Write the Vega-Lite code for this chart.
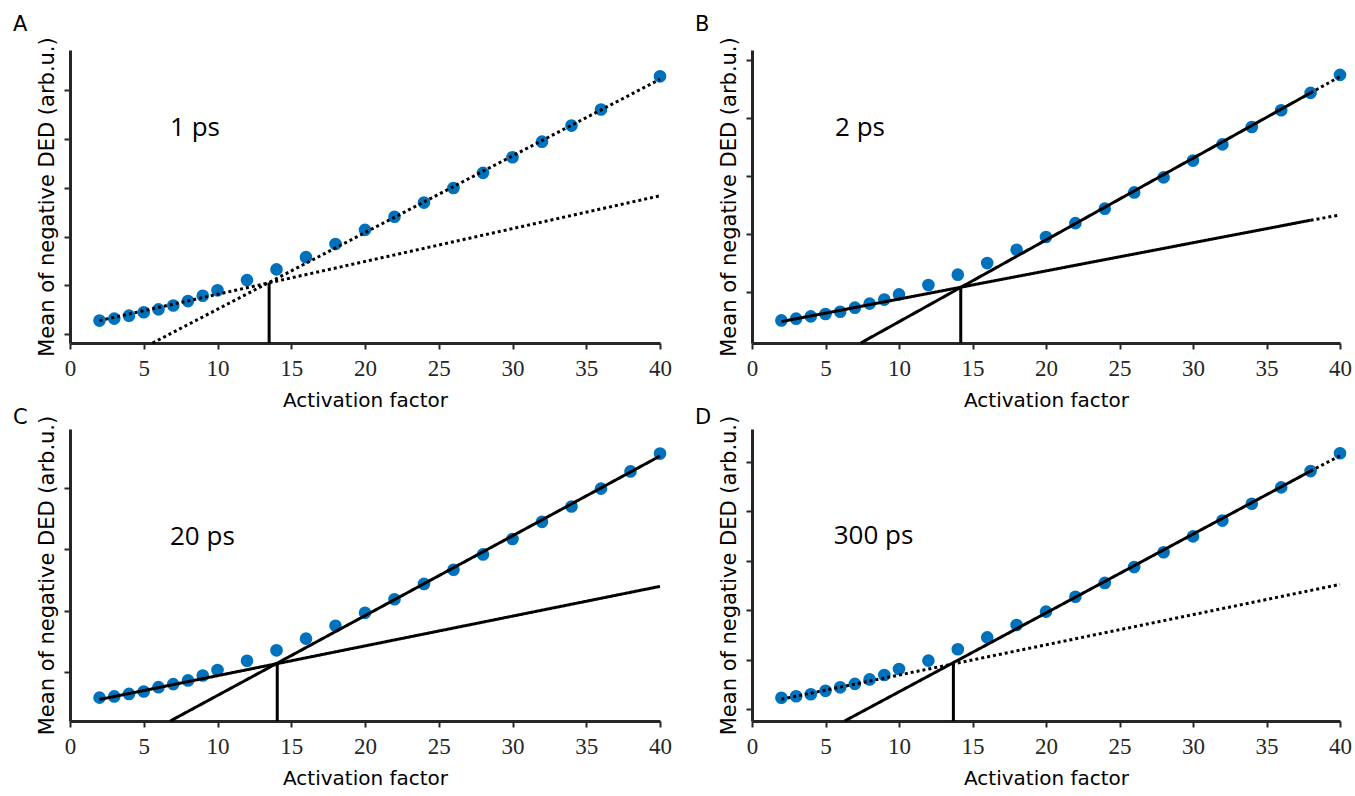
{
  "$schema": "https://vega.github.io/schema/vega-lite/v6.json",
  "padding": {"left": 13, "top": 13, "right": 3, "bottom": 0},
  "background": "white",
  "bounds": "flush",
  "columns": 2,
  "spacing": {"row": 86, "column": 92},
  "config": {"view": {"stroke": null}},
  "datasets": {
    "pts": [
      {"panel": "A", "x": 2, "y": 0.28}, {"panel": "A", "x": 3, "y": 0.32}, {"panel": "A", "x": 4, "y": 0.38}, {"panel": "A", "x": 5, "y": 0.45}, {"panel": "A", "x": 6, "y": 0.51}, {"panel": "A", "x": 7, "y": 0.59}, {"panel": "A", "x": 8, "y": 0.68}, {"panel": "A", "x": 9, "y": 0.79}, {"panel": "A", "x": 10, "y": 0.9}, {"panel": "A", "x": 12, "y": 1.11}, {"panel": "A", "x": 14, "y": 1.33}, {"panel": "A", "x": 16, "y": 1.58}, {"panel": "A", "x": 18, "y": 1.85}, {"panel": "A", "x": 20, "y": 2.14}, {"panel": "A", "x": 22, "y": 2.41}, {"panel": "A", "x": 24, "y": 2.7}, {"panel": "A", "x": 26, "y": 3.0}, {"panel": "A", "x": 28, "y": 3.31}, {"panel": "A", "x": 30, "y": 3.63}, {"panel": "A", "x": 32, "y": 3.95}, {"panel": "A", "x": 34, "y": 4.28}, {"panel": "A", "x": 36, "y": 4.61}, {"panel": "A", "x": 40, "y": 5.29},
      {"panel": "B", "x": 2, "y": -0.49}, {"panel": "B", "x": 3, "y": -0.46}, {"panel": "B", "x": 4, "y": -0.42}, {"panel": "B", "x": 5, "y": -0.38}, {"panel": "B", "x": 6, "y": -0.34}, {"panel": "B", "x": 7, "y": -0.27}, {"panel": "B", "x": 8, "y": -0.2}, {"panel": "B", "x": 9, "y": -0.13}, {"panel": "B", "x": 10, "y": -0.04}, {"panel": "B", "x": 12, "y": 0.12}, {"panel": "B", "x": 14, "y": 0.3}, {"panel": "B", "x": 16, "y": 0.5}, {"panel": "B", "x": 18, "y": 0.73}, {"panel": "B", "x": 20, "y": 0.95}, {"panel": "B", "x": 22, "y": 1.19}, {"panel": "B", "x": 24, "y": 1.44}, {"panel": "B", "x": 26, "y": 1.72}, {"panel": "B", "x": 28, "y": 1.98}, {"panel": "B", "x": 30, "y": 2.27}, {"panel": "B", "x": 32, "y": 2.55}, {"panel": "B", "x": 34, "y": 2.85}, {"panel": "B", "x": 36, "y": 3.14}, {"panel": "B", "x": 38, "y": 3.44}, {"panel": "B", "x": 40, "y": 3.75},
      {"panel": "C", "x": 2, "y": -0.41}, {"panel": "C", "x": 3, "y": -0.39}, {"panel": "C", "x": 4, "y": -0.35}, {"panel": "C", "x": 5, "y": -0.31}, {"panel": "C", "x": 6, "y": -0.24}, {"panel": "C", "x": 7, "y": -0.19}, {"panel": "C", "x": 8, "y": -0.13}, {"panel": "C", "x": 9, "y": -0.05}, {"panel": "C", "x": 10, "y": 0.04}, {"panel": "C", "x": 12, "y": 0.19}, {"panel": "C", "x": 14, "y": 0.36}, {"panel": "C", "x": 16, "y": 0.55}, {"panel": "C", "x": 18, "y": 0.76}, {"panel": "C", "x": 20, "y": 0.97}, {"panel": "C", "x": 22, "y": 1.19}, {"panel": "C", "x": 24, "y": 1.44}, {"panel": "C", "x": 26, "y": 1.67}, {"panel": "C", "x": 28, "y": 1.92}, {"panel": "C", "x": 30, "y": 2.17}, {"panel": "C", "x": 32, "y": 2.45}, {"panel": "C", "x": 34, "y": 2.7}, {"panel": "C", "x": 36, "y": 2.99}, {"panel": "C", "x": 38, "y": 3.27}, {"panel": "C", "x": 40, "y": 3.56},
      {"panel": "D", "x": 2, "y": 0.23}, {"panel": "D", "x": 3, "y": 0.26}, {"panel": "D", "x": 4, "y": 0.3}, {"panel": "D", "x": 5, "y": 0.37}, {"panel": "D", "x": 6, "y": 0.44}, {"panel": "D", "x": 7, "y": 0.51}, {"panel": "D", "x": 8, "y": 0.6}, {"panel": "D", "x": 9, "y": 0.69}, {"panel": "D", "x": 10, "y": 0.81}, {"panel": "D", "x": 12, "y": 0.98}, {"panel": "D", "x": 14, "y": 1.21}, {"panel": "D", "x": 16, "y": 1.45}, {"panel": "D", "x": 18, "y": 1.7}, {"panel": "D", "x": 20, "y": 1.97}, {"panel": "D", "x": 22, "y": 2.27}, {"panel": "D", "x": 24, "y": 2.55}, {"panel": "D", "x": 26, "y": 2.87}, {"panel": "D", "x": 28, "y": 3.17}, {"panel": "D", "x": 30, "y": 3.49}, {"panel": "D", "x": 32, "y": 3.81}, {"panel": "D", "x": 34, "y": 4.15}, {"panel": "D", "x": 36, "y": 4.48}, {"panel": "D", "x": 38, "y": 4.81}, {"panel": "D", "x": 40, "y": 5.17}
    ],
    "fits": [
      {"panel": "A", "seg": "A1", "style": "dotted", "x": 2, "y": 0.28}, {"panel": "A", "seg": "A1", "style": "dotted", "x": 40, "y": 2.84},
      {"panel": "A", "seg": "A2", "style": "dotted", "x": 5.6, "y": -0.18}, {"panel": "A", "seg": "A2", "style": "dotted", "x": 40, "y": 5.23},
      {"panel": "B", "seg": "B1", "style": "solid", "x": 2, "y": -0.51}, {"panel": "B", "seg": "B1", "style": "solid", "x": 38, "y": 1.24},
      {"panel": "B", "seg": "B1d", "style": "dotted", "x": 38, "y": 1.24}, {"panel": "B", "seg": "B1d", "style": "dotted", "x": 40, "y": 1.33},
      {"panel": "B", "seg": "B2", "style": "solid", "x": 7.4, "y": -0.88}, {"panel": "B", "seg": "B2", "style": "solid", "x": 38, "y": 3.44},
      {"panel": "B", "seg": "B2d", "style": "dotted", "x": 38, "y": 3.44}, {"panel": "B", "seg": "B2d", "style": "dotted", "x": 40, "y": 3.72},
      {"panel": "C", "seg": "C1", "style": "solid", "x": 2, "y": -0.44}, {"panel": "C", "seg": "C1", "style": "solid", "x": 40, "y": 1.4},
      {"panel": "C", "seg": "C2", "style": "solid", "x": 6.8, "y": -0.79}, {"panel": "C", "seg": "C2", "style": "solid", "x": 40, "y": 3.52},
      {"panel": "D", "seg": "D1", "style": "dotted", "x": 2, "y": 0.2}, {"panel": "D", "seg": "D1", "style": "dotted", "x": 40, "y": 2.52},
      {"panel": "D", "seg": "D2", "style": "solid", "x": 6.3, "y": -0.24}, {"panel": "D", "seg": "D2", "style": "solid", "x": 38, "y": 4.81},
      {"panel": "D", "seg": "D2d", "style": "dotted", "x": 38, "y": 4.81}, {"panel": "D", "seg": "D2d", "style": "dotted", "x": 40, "y": 5.12}
    ],
    "cross": [
      {"panel": "A", "x": 13.5, "y0": -0.18, "y1": 1.06},
      {"panel": "B", "x": 14.2, "y0": -0.88, "y1": 0.08},
      {"panel": "C", "x": 14.05, "y0": -0.79, "y1": 0.15},
      {"panel": "D", "x": 13.7, "y0": -0.24, "y1": 0.93}
    ],
    "notes": [
      {"panel": "A", "x": 6.78, "y": 4.06, "text": "1 ps"},
      {"panel": "B", "x": 5.65, "y": 2.7, "text": "2 ps"},
      {"panel": "C", "x": 6.78, "y": 2.08, "text": "20 ps"},
      {"panel": "D", "x": 5.56, "y": 3.33, "text": "300 ps"}
    ]
  },
  "concat": [
    {
      "title": {"text": "A", "anchor": "start", "frame": "group", "dx": -57, "baseline": "alphabetic", "font": "DejaVu Sans", "fontSize": 21, "fontWeight": "normal", "color": "black", "offset": -15},
      "width": 590, "height": 293,
      "resolve": {"axis": {"x": "independent", "y": "independent"}},
      "layer": [
        {"data": {"name": "pts"}, "transform": [{"filter": "datum.panel === 'A'"}], "mark": {"type": "circle", "size": 160, "color": "#0072BD", "opacity": 1},
         "encoding": {
          "x": {"field": "x", "type": "quantitative", "scale": {"domain": [0, 40], "nice": false, "zero": false}, "axis": {"values": [0, 5, 10, 15, 20, 25, 30, 35, 40], "grid": false, "labelFlush": false, "labelFont": "Liberation Serif", "labelFontSize": 23, "labelColor": "#262626", "labelPadding": 8, "domainWidth": 3, "domainColor": "#262626", "tickWidth": 2, "tickColor": "#262626", "tickSize": 6, "title": "Activation factor", "titleFont": "DejaVu Sans", "titleFontWeight": "normal", "titleColor": "black", "titleFontSize": 20, "titlePadding": 10}},
          "y": {"field": "y", "type": "quantitative", "scale": {"domain": [-0.18, 5.83], "nice": false, "zero": false}, "axis": {"values": [0, 1, 2, 3, 4, 5], "grid": false, "labels": false, "domainWidth": 3, "domainColor": "#262626", "tickWidth": 2, "tickColor": "#262626", "tickSize": 6, "title": "Mean of negative DED (arb.u.)", "titleFont": "DejaVu Sans", "titleFontWeight": "normal", "titleColor": "black", "titleFontSize": 21, "titlePadding": 6}}
         }},
        {"data": {"name": "fits"}, "transform": [{"filter": "datum.panel === 'A'"}], "mark": {"type": "line", "color": "black", "strokeWidth": 3}, "encoding": {"x": {"field": "x", "type": "quantitative", "axis": null}, "y": {"field": "y", "type": "quantitative", "axis": null}, "detail": {"field": "seg"}, "strokeDash": {"field": "style", "type": "nominal", "scale": {"domain": ["solid", "dotted"], "range": [[1, 0], [3, 3]]}, "legend": null}}},
        {"data": {"name": "cross"}, "transform": [{"filter": "datum.panel === 'A'"}], "mark": {"type": "rule", "color": "black", "strokeWidth": 3}, "encoding": {"x": {"field": "x", "type": "quantitative", "axis": null}, "y": {"field": "y0", "type": "quantitative", "axis": null}, "y2": {"field": "y1"}}},
        {"data": {"name": "notes"}, "transform": [{"filter": "datum.panel === 'A'"}], "mark": {"type": "text", "align": "left", "baseline": "alphabetic", "font": "Open Sans", "fontSize": 26, "color": "black"}, "encoding": {"x": {"field": "x", "type": "quantitative", "axis": null}, "y": {"field": "y", "type": "quantitative", "axis": null}, "text": {"field": "text"}}}
      ]
    },
    {
      "title": {"text": "B", "anchor": "start", "frame": "group", "dx": -57, "baseline": "alphabetic", "font": "DejaVu Sans", "fontSize": 21, "fontWeight": "normal", "color": "black", "offset": -15},
      "width": 588, "height": 293,
      "resolve": {"axis": {"x": "independent", "y": "independent"}},
      "layer": [
        {"data": {"name": "pts"}, "transform": [{"filter": "datum.panel === 'B'"}], "mark": {"type": "circle", "size": 160, "color": "#0072BD", "opacity": 1},
         "encoding": {
          "x": {"field": "x", "type": "quantitative", "scale": {"domain": [0, 40], "nice": false, "zero": false}, "axis": {"values": [0, 5, 10, 15, 20, 25, 30, 35, 40], "grid": false, "labelFlush": false, "labelFont": "Liberation Serif", "labelFontSize": 23, "labelColor": "#262626", "labelPadding": 8, "domainWidth": 3, "domainColor": "#262626", "tickWidth": 2, "tickColor": "#262626", "tickSize": 6, "title": "Activation factor", "titleFont": "DejaVu Sans", "titleFontWeight": "normal", "titleColor": "black", "titleFontSize": 20, "titlePadding": 10}},
          "y": {"field": "y", "type": "quantitative", "scale": {"domain": [-0.88, 4.18], "nice": false, "zero": false}, "axis": {"values": [0, 1, 2, 3, 4], "grid": false, "labels": false, "domainWidth": 3, "domainColor": "#262626", "tickWidth": 2, "tickColor": "#262626", "tickSize": 6, "title": "Mean of negative DED (arb.u.)", "titleFont": "DejaVu Sans", "titleFontWeight": "normal", "titleColor": "black", "titleFontSize": 21, "titlePadding": 6}}
         }},
        {"data": {"name": "fits"}, "transform": [{"filter": "datum.panel === 'B'"}], "mark": {"type": "line", "color": "black", "strokeWidth": 3}, "encoding": {"x": {"field": "x", "type": "quantitative", "axis": null}, "y": {"field": "y", "type": "quantitative", "axis": null}, "detail": {"field": "seg"}, "strokeDash": {"field": "style", "type": "nominal", "scale": {"domain": ["solid", "dotted"], "range": [[1, 0], [3, 3]]}, "legend": null}}},
        {"data": {"name": "cross"}, "transform": [{"filter": "datum.panel === 'B'"}], "mark": {"type": "rule", "color": "black", "strokeWidth": 3}, "encoding": {"x": {"field": "x", "type": "quantitative", "axis": null}, "y": {"field": "y0", "type": "quantitative", "axis": null}, "y2": {"field": "y1"}}},
        {"data": {"name": "notes"}, "transform": [{"filter": "datum.panel === 'B'"}], "mark": {"type": "text", "align": "left", "baseline": "alphabetic", "font": "Open Sans", "fontSize": 26, "color": "black"}, "encoding": {"x": {"field": "x", "type": "quantitative", "axis": null}, "y": {"field": "y", "type": "quantitative", "axis": null}, "text": {"field": "text"}}}
      ]
    },
    {
      "title": {"text": "C", "anchor": "start", "frame": "group", "dx": -57, "baseline": "alphabetic", "font": "DejaVu Sans", "fontSize": 21, "fontWeight": "normal", "color": "black", "offset": -30},
      "width": 590, "height": 292,
      "resolve": {"axis": {"x": "independent", "y": "independent"}},
      "layer": [
        {"data": {"name": "pts"}, "transform": [{"filter": "datum.panel === 'C'"}], "mark": {"type": "circle", "size": 160, "color": "#0072BD", "opacity": 1},
         "encoding": {
          "x": {"field": "x", "type": "quantitative", "scale": {"domain": [0, 40], "nice": false, "zero": false}, "axis": {"values": [0, 5, 10, 15, 20, 25, 30, 35, 40], "grid": false, "labelFlush": false, "labelFont": "Liberation Serif", "labelFontSize": 23, "labelColor": "#262626", "labelPadding": 8, "domainWidth": 3, "domainColor": "#262626", "tickWidth": 2, "tickColor": "#262626", "tickSize": 6, "title": "Activation factor", "titleFont": "DejaVu Sans", "titleFontWeight": "normal", "titleColor": "black", "titleFontSize": 20, "titlePadding": 10}},
          "y": {"field": "y", "type": "quantitative", "scale": {"domain": [-0.79, 3.96], "nice": false, "zero": false}, "axis": {"values": [0, 1, 2, 3], "grid": false, "labels": false, "domainWidth": 3, "domainColor": "#262626", "tickWidth": 2, "tickColor": "#262626", "tickSize": 6, "title": "Mean of negative DED (arb.u.)", "titleFont": "DejaVu Sans", "titleFontWeight": "normal", "titleColor": "black", "titleFontSize": 21, "titlePadding": 6}}
         }},
        {"data": {"name": "fits"}, "transform": [{"filter": "datum.panel === 'C'"}], "mark": {"type": "line", "color": "black", "strokeWidth": 3}, "encoding": {"x": {"field": "x", "type": "quantitative", "axis": null}, "y": {"field": "y", "type": "quantitative", "axis": null}, "detail": {"field": "seg"}, "strokeDash": {"field": "style", "type": "nominal", "scale": {"domain": ["solid", "dotted"], "range": [[1, 0], [3, 3]]}, "legend": null}}},
        {"data": {"name": "cross"}, "transform": [{"filter": "datum.panel === 'C'"}], "mark": {"type": "rule", "color": "black", "strokeWidth": 3}, "encoding": {"x": {"field": "x", "type": "quantitative", "axis": null}, "y": {"field": "y0", "type": "quantitative", "axis": null}, "y2": {"field": "y1"}}},
        {"data": {"name": "notes"}, "transform": [{"filter": "datum.panel === 'C'"}], "mark": {"type": "text", "align": "left", "baseline": "alphabetic", "font": "Open Sans", "fontSize": 26, "color": "black"}, "encoding": {"x": {"field": "x", "type": "quantitative", "axis": null}, "y": {"field": "y", "type": "quantitative", "axis": null}, "text": {"field": "text"}}}
      ]
    },
    {
      "title": {"text": "D", "anchor": "start", "frame": "group", "dx": -57, "baseline": "alphabetic", "font": "DejaVu Sans", "fontSize": 21, "fontWeight": "normal", "color": "black", "offset": -30},
      "width": 588, "height": 292,
      "resolve": {"axis": {"x": "independent", "y": "independent"}},
      "layer": [
        {"data": {"name": "pts"}, "transform": [{"filter": "datum.panel === 'D'"}], "mark": {"type": "circle", "size": 160, "color": "#0072BD", "opacity": 1},
         "encoding": {
          "x": {"field": "x", "type": "quantitative", "scale": {"domain": [0, 40], "nice": false, "zero": false}, "axis": {"values": [0, 5, 10, 15, 20, 25, 30, 35, 40], "grid": false, "labelFlush": false, "labelFont": "Liberation Serif", "labelFontSize": 23, "labelColor": "#262626", "labelPadding": 8, "domainWidth": 3, "domainColor": "#262626", "tickWidth": 2, "tickColor": "#262626", "tickSize": 6, "title": "Activation factor", "titleFont": "DejaVu Sans", "titleFontWeight": "normal", "titleColor": "black", "titleFontSize": 20, "titlePadding": 10}},
          "y": {"field": "y", "type": "quantitative", "scale": {"domain": [-0.24, 5.66], "nice": false, "zero": false}, "axis": {"values": [0, 1, 2, 3, 4, 5], "grid": false, "labels": false, "domainWidth": 3, "domainColor": "#262626", "tickWidth": 2, "tickColor": "#262626", "tickSize": 6, "title": "Mean of negative DED (arb.u.)", "titleFont": "DejaVu Sans", "titleFontWeight": "normal", "titleColor": "black", "titleFontSize": 21, "titlePadding": 6}}
         }},
        {"data": {"name": "fits"}, "transform": [{"filter": "datum.panel === 'D'"}], "mark": {"type": "line", "color": "black", "strokeWidth": 3}, "encoding": {"x": {"field": "x", "type": "quantitative", "axis": null}, "y": {"field": "y", "type": "quantitative", "axis": null}, "detail": {"field": "seg"}, "strokeDash": {"field": "style", "type": "nominal", "scale": {"domain": ["solid", "dotted"], "range": [[1, 0], [3, 3]]}, "legend": null}}},
        {"data": {"name": "cross"}, "transform": [{"filter": "datum.panel === 'D'"}], "mark": {"type": "rule", "color": "black", "strokeWidth": 3}, "encoding": {"x": {"field": "x", "type": "quantitative", "axis": null}, "y": {"field": "y0", "type": "quantitative", "axis": null}, "y2": {"field": "y1"}}},
        {"data": {"name": "notes"}, "transform": [{"filter": "datum.panel === 'D'"}], "mark": {"type": "text", "align": "left", "baseline": "alphabetic", "font": "Open Sans", "fontSize": 26, "color": "black"}, "encoding": {"x": {"field": "x", "type": "quantitative", "axis": null}, "y": {"field": "y", "type": "quantitative", "axis": null}, "text": {"field": "text"}}}
      ]
    }
  ]
}
